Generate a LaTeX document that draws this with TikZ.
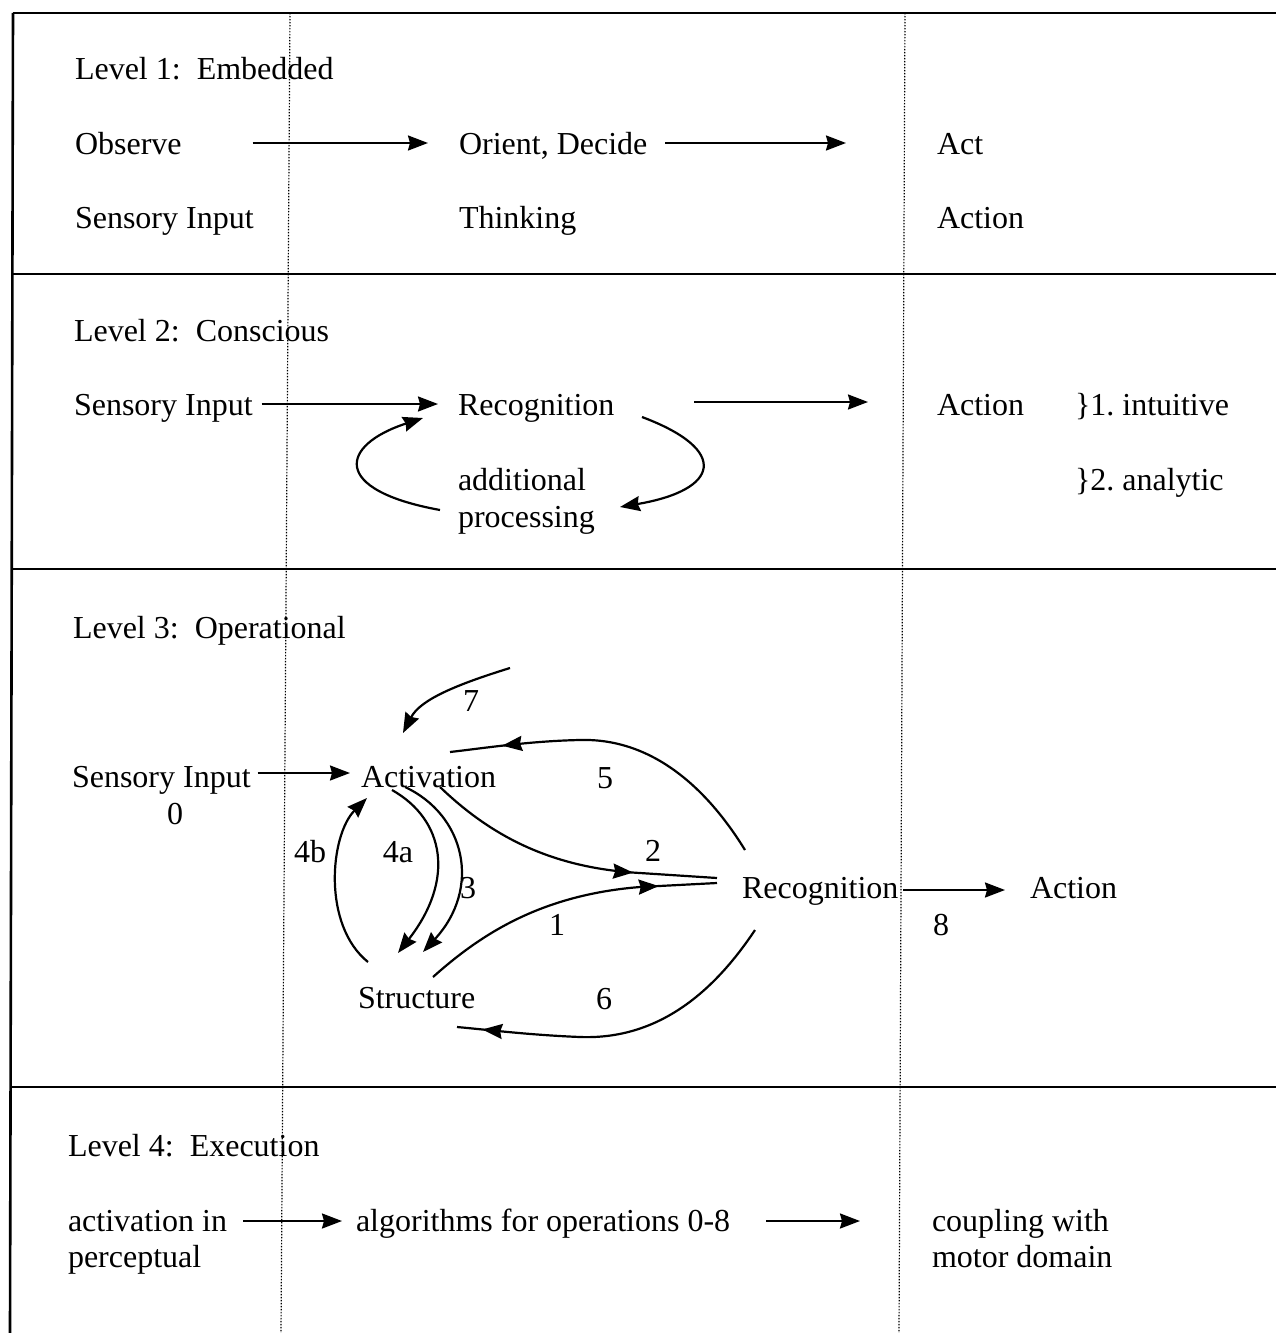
\documentclass[tikz,border=0pt]{standalone}
\usepackage{fontspec}
\setmainfont{Liberation Serif}
\usetikzlibrary{arrows.meta,decorations.markings}

\begin{document}
\begin{tikzpicture}[x=0.5pt,y=-0.5pt,
  txt/.style={inner sep=0pt, outer sep=0pt, anchor=base west, font=\fontsize{16}{19}\selectfont},
  num/.style={inner sep=0pt, outer sep=0pt, anchor=base, font=\fontsize{16}{19}\selectfont},
  frame/.style={line width=1.3pt},
  guide/.style={line width=0.6pt, dash pattern=on 0.7pt off 0.8pt},
  tip/.style={-{Stealth[length=10pt,width=7.5pt,inset=1pt]}},
  arr/.style={line width=1.1pt, tip},
  link/.style={line width=1.1pt},
  midarrow/.style={postaction={decorate}, decoration={markings,
      mark=at position #1 with {\arrow{Stealth[length=10pt,width=7.5pt,inset=1pt]}}}},
]
\useasboundingbox (0,0) rectangle (1276,1333);

% table frame and column guides
\draw[frame] (13,13) -- (1276,13);
\draw[frame] (13,13) -- (10,1333);
\draw[frame] (12.4,274) -- (1276,274);
\draw[frame] (11.8,569) -- (1276,569);
\draw[frame] (10.6,1087) -- (1276,1087);
\draw[guide] (290,13) -- (281,1333);
\draw[guide] (905,13) -- (899,1333);

% ---------- Level 1 ----------
\node[txt] (h1) at (75,79) {Level 1:\ \ Embedded};
\node[txt] (obs) at (75,154) {Observe};
\node[txt] (ori) at (459,154) {Orient, Decide};
\node[txt] (act1) at (937,154) {Act};
\node[txt] (sen1) at (75,228) {Sensory Input};
\node[txt] (thk) at (459,228) {Thinking};
\node[txt] (acn1) at (937,228) {Action};
\draw[arr] ([shift={(71,-11)}]obs.base east) -- ([shift={(-31,-11)}]ori.base west);
\draw[arr] ([shift={(18,-11)}]ori.base east) -- ([shift={(-91,-11)}]act1.base west);

% ---------- Level 2 ----------
\node[txt] (h2) at (74,341) {Level 2:\ \ Conscious};
\node[txt] (sen2) at (74,415) {Sensory Input};
\node[txt] (rec2) at (458,415) {Recognition};
\node[txt] (acn2) at (937,415) {Action};
\node[txt] (int) at (1075,415) {\}1.\ intuitive};
\node[txt] (ana) at (1075,490) {\}2.\ analytic};
\node[txt] (add) at (458,490) {additional};
\node[txt] (proc) at (458,527) {processing};
\draw[arr] ([shift={(9,-11)}]sen2.base east) -- ([shift={(-20,-11)}]rec2.base west);
\draw[arr] ([shift={(80,-13)}]rec2.base east) -- ([shift={(-69,-13)}]acn2.base west);
\draw[arr] ([shift={(-18,-17)}]proc.base west) .. controls (330,490) and (340,445) .. ([shift={(-35,3)}]rec2.base west);
\draw[arr] ([shift={(184,2)}]rec2.base west) .. controls (730,450) and (720,490) .. ([shift={(162,-20)}]proc.base west);

% ---------- Level 3 ----------
\node[txt] (h3) at (73,638) {Level 3:\ \ Operational};
\node[txt] (sen3) at (72,787) {Sensory Input};
\node[num] (n0) at (175,824) {0};
\node[txt] (actv) at (361,787) {Activation};
\node[txt] (struc) at (358,1008) {Structure};
\node[txt] (rec3) at (742,898) {Recognition};
\node[txt] (acn3) at (1030,898) {Action};
\node[num] (n7) at (471,711) {7};
\node[num] (n5) at (605,788) {5};
\node[num] (n2) at (653,861) {2};
\node[num] (n4b) at (310,862) {4b};
\node[num] (n4a) at (398,862) {4a};
\node[num] (n3) at (468,898) {3};
\node[num] (n1) at (557,935) {1};
\node[num] (n8) at (941,935) {8};
\node[num] (n6) at (604,1009) {6};
\coordinate (c7) at (510,668);

\draw[arr] ([shift={(7,-14)}]sen3.base east) -- ([shift={(-11,-14)}]actv.base west);
\draw[arr] ([shift={(5,-8)}]rec3.base east) -- ([shift={(-25,-8)}]acn3.base west);
% 7
\draw[arr] (c7) .. controls (455,685) and (420,700) .. ([shift={(42,-54)}]actv.base west);
% 5
\draw[link,midarrow=0.845] ([shift={(3,-48)}]rec3.base west)
  .. controls (705,785) and (650,738) .. (580,740)
  .. controls (530,741) and (485,748) .. ([shift={(89,-35)}]actv.base west);
% 2
\draw[link,midarrow=0.72] ([shift={(79,0)}]actv.base west)
  .. controls (490,835) and (550,868) .. (640,873) -- ([shift={(-25,-20)}]rec3.base west);
% 1
\draw[link,midarrow=0.81] ([shift={(75,-31)}]struc.base west)
  .. controls (480,935) and (540,895) .. (640,887) -- ([shift={(-25,-15)}]rec3.base west);
% 4a
\draw[arr] ([shift={(31,3)}]actv.base west) .. controls (445,820) and (455,880) .. ([shift={(40,-55)}]struc.base west);
% 3
\draw[arr] ([shift={(44,0)}]actv.base west) .. controls (465,815) and (482,888) .. ([shift={(65,-56)}]struc.base west);
% 4b
\draw[arr] ([shift={(10,-46)}]struc.base west) .. controls (322,925) and (330,835) .. ([shift={(6,11)}]actv.base west);
% 6
\draw[link,midarrow=0.925] ([shift={(13,32)}]rec3.base west)
  .. controls (715,990) and (660,1040) .. (580,1037)
  .. controls (530,1035) and (490,1030) .. ([shift={(99,19)}]struc.base west);

% ---------- Level 4 ----------
\node[txt] (h4) at (68,1156) {Level 4:\ \ Execution};
\node[txt] (ain) at (68,1231) {activation in};
\node[txt] (per) at (68,1267) {perceptual};
\node[txt] (alg) at (356,1231) {algorithms for operations 0-8};
\node[txt] (cpl) at (932,1231) {coupling with};
\node[txt] (mot) at (932,1267) {motor domain};
\draw[arr] ([shift={(16,-10)}]ain.base east) -- ([shift={(-14,-10)}]alg.base west);
\draw[arr] ([shift={(36,-10)}]alg.base east) -- ([shift={(-72,-10)}]cpl.base west);

\end{tikzpicture}
\end{document}
